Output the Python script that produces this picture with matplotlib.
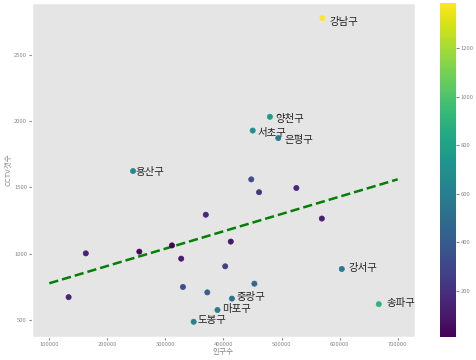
import numpy as np
import matplotlib
matplotlib.use("Agg")
import matplotlib.pyplot as plt

plt.style.use("ggplot")
plt.rcParams['font.family'] = ['Noto Sans CJK KR', 'DejaVu Sans']
plt.rcParams['axes.unicode_minus'] = False

districts = ['강남구', '강동구', '강북구', '강서구', '관악구', '광진구', '구로구', '금천구',
             '노원구', '도봉구', '동대문구', '동작구', '마포구', '서대문구', '서초구', '성동구',
             '성북구', '송파구', '양천구', '영등포구', '용산구', '은평구', '종로구', '중구', '중랑구']
population = [570500, 453233, 330192, 603772, 525515, 372164, 447874, 255082,
              569384, 348646, 369496, 412520, 389649, 327163, 450310, 311244,
              461260, 667483, 479978, 402985, 244203, 494388, 162820, 133240, 414503]
cctv = [2780, 773, 748, 884, 1496, 707, 1561, 1015,
        1265, 485, 1294, 1091, 574, 962, 1930, 1062,
        1464, 618, 2034, 904, 1624, 1873, 1002, 671, 660]
labeled = ['강남구', '양천구', '서초구', '은평구', '용산구', '강서구', '송파구', '도봉구', '마포구', '중랑구']

x = np.array(population, dtype=float)
y = np.array(cctv, dtype=float)
fp1 = np.polyfit(x, y, 1)
f1 = np.poly1d(fp1)
fx = np.linspace(100000, 700000, 100)
err = np.abs(y - f1(x))

fig = plt.figure(figsize=(4.76, 3.6), dpi=100)
ax = fig.add_axes([0.067, 0.064, 0.805, 0.928])
cax = fig.add_axes([0.924, 0.064, 0.034, 0.928])

sc = ax.scatter(x, y, c=err, s=14, cmap='viridis', zorder=3)
ax.plot(fx, f1(fx), ls='dashed', lw=1.8, color='g', zorder=2)

for name, px, py in zip(districts, x, y):
    if name in labeled:
        ax.text(px * 1.02, py * 0.98, name, fontsize=7.5, color='#222222', zorder=4)

ax.set_xlabel('인구수', fontsize=5.5, color='#888888', labelpad=1)
ax.set_ylabel('CCTV갯수', fontsize=5.5, color='#888888', labelpad=1)
ax.tick_params(labelsize=4.2, colors='#888888', length=2, pad=1.5)
ax.grid(False)

cb = fig.colorbar(sc, cax=cax)
cb.ax.tick_params(labelsize=4.2, colors='#888888', length=2, pad=1.5)
cb.outline.set_visible(False)

fig.savefig('out.png', dpi=100)
